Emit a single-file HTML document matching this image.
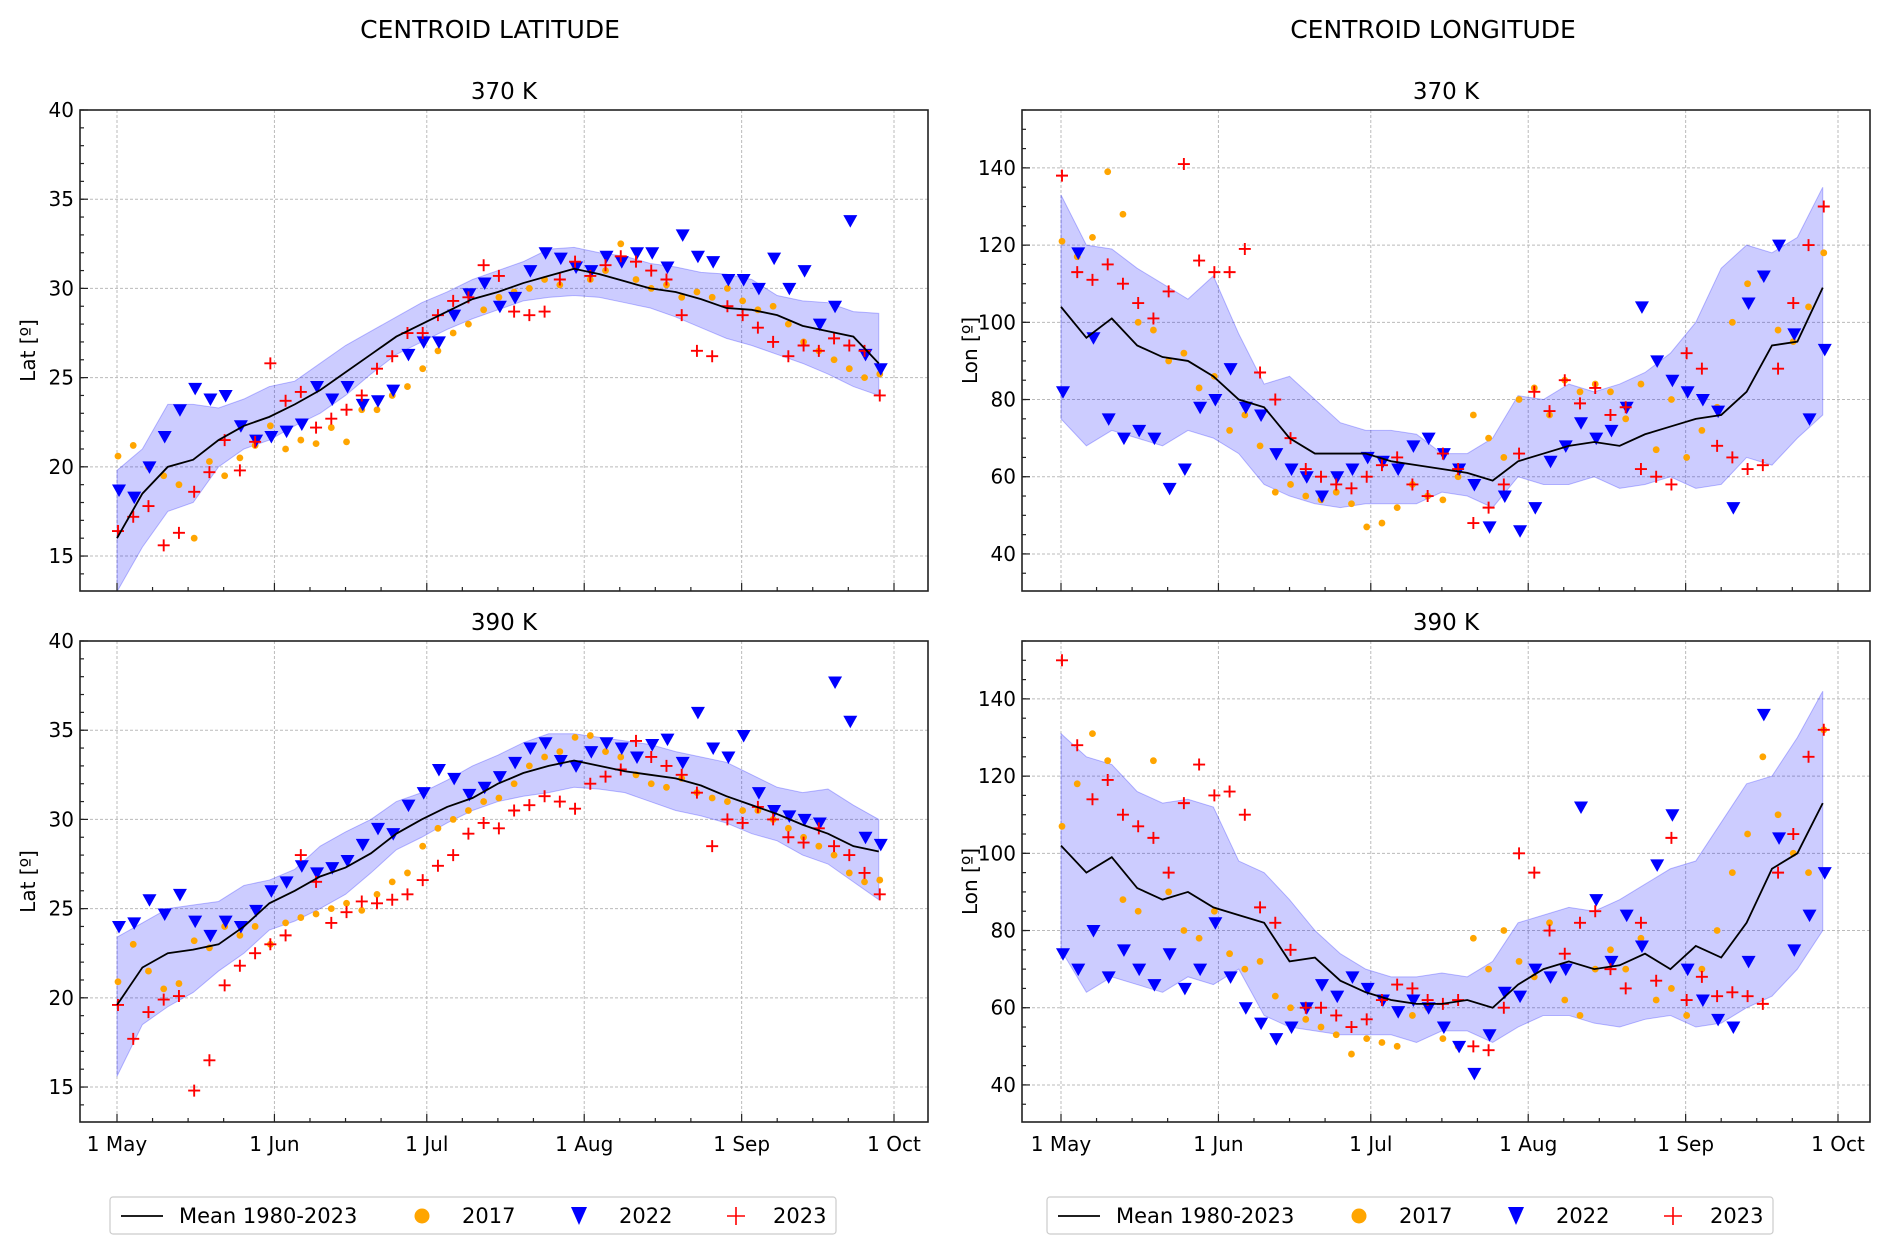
<!DOCTYPE html>
<html><head><meta charset="utf-8">
<style>
html,body{margin:0;padding:0;background:#fff;}
svg{display:block;font-family:"DejaVu Sans","Liberation Sans",sans-serif;}
</style></head>
<body>
<svg id="fig" width="1892" height="1256" viewBox="0 0 1892 1256" xmlns="http://www.w3.org/2000/svg">
<rect width="1892" height="1256" fill="#fff"/>
<text x="490" y="38" font-size="25" text-anchor="middle">CENTROID LATITUDE</text>
<text x="1433" y="38" font-size="25" text-anchor="middle">CENTROID LONGITUDE</text>
<g id="panels"></g>
<g id="legends"></g>
</svg>
<script>
// ---- shared axes data ----
const monthTickDays = [0,31,61,92,123,153];
const monthTickLabels = ["1 May","1 Jun","1 Jul","1 Aug","1 Sep","1 Oct"];
const bandDays = [0,5,10,15,20,25,30,35,40,45,50,55,60,65,70,75,80,85,90,95,100,105,110,115,120,125,130,135,140,145,150];
const scatterDays = [0,3,6,9,12,15,18,21,24,27,30,33,36,39,42,45,48,51,54,57,60,63,66,69,72,75,78,81,84,87,90,93,96,99,102,105,108,111,114,117,120,123,126,129,132,135,138,141,144,147,150];
const latTicks = [15,20,25,30,35,40];
const lonTicks = [40,60,80,100,120,140];

// ---- 370 K latitude ----
const lat370Mean = [16,18.5,20,20.4,21.5,22.3,22.8,23.5,24.3,25.3,26.3,27.3,28,28.7,29.4,29.8,30.3,30.7,31.1,30.8,30.4,30.0,29.8,29.4,28.9,28.8,28.5,27.9,27.6,27.3,25.8];
const lat370Low = [13,15.5,17.5,18,20,21,21.5,22.3,23,24,25.2,26.3,27,27.7,28.3,28.8,29.3,29.5,29.6,29.5,29.2,28.9,28.4,27.8,27.2,26.8,26.3,25.8,25.2,24.5,24.0];
const lat370High = [19.8,21,23.5,23.5,23.3,23.8,24.5,24.8,25.8,26.8,27.6,28.4,29.2,29.8,30.5,31,31.5,32.2,32.3,32.0,31.8,31.4,31.2,30.9,30.8,30.5,29.6,29.3,29.2,28.7,28.6];
const lat370Y2017 = [20.6,21.2,20,19.5,19,16,20.3,19.5,20.5,21.2,22.3,21,21.5,21.3,22.2,21.4,23.2,23.2,24,24.5,25.5,26.5,27.5,28,28.8,29.5,29.8,30,30.5,30.2,31.2,30.5,31,32.5,30.5,30,30.2,29.5,29.8,29.5,30,29.3,28.8,29,28,27,26.5,26,25.5,25,25.2];
const lat370Y2022 = [18.7,18.3,20,21.7,23.2,24.4,23.8,24,22.3,21.5,21.7,22,22.4,24.5,23.8,24.5,23.5,23.7,24.3,26.3,27,27,28.5,29.7,30.3,29,29.5,31,32,31.7,31.2,31,31.8,31.5,32,32,31.2,33,31.8,31.5,30.5,30.5,30,31.7,30,31,28,29,33.8,26.3,25.5];
const lat370Y2023 = [16.4,17.2,17.8,15.6,16.3,18.6,19.7,21.5,19.8,21.4,25.8,23.7,24.2,22.2,22.7,23.2,24,25.5,26.2,27.5,27.5,28.5,29.3,29.5,31.3,30.7,28.7,28.5,28.7,30.5,31.5,30.7,31.3,31.8,31.5,31,30.5,28.5,26.5,26.2,29,28.5,27.8,27,26.2,26.8,26.5,27.2,26.8,26.5,24];

// ---- 390 K latitude ----
const lat390Mean = [19.6,21.7,22.5,22.7,23,24,25.3,26,26.8,27.3,28.1,29.2,30,30.7,31.2,32,32.6,33,33.3,33,32.7,32.5,32.3,31.9,31.3,30.8,30.3,29.7,29.2,28.5,28.2];
const lat390Low = [15.6,18.5,19.5,20.3,21.5,22.5,23.8,24.3,25,25.8,27,28.3,29,29.8,30.5,31,31.3,31.5,31.8,31.7,31.5,31,30.5,30.2,29.8,29.2,28.8,28,27.5,26.5,25.5];
const lat390High = [23.4,24.2,25,25.2,25.4,26.3,26.6,27.2,28.5,29.3,30,31,31.5,32.2,33,33.6,34.3,34.8,34.8,34.6,34.4,34.2,33.8,33.5,33.2,32.5,31.8,31.5,31.7,30.8,30];
const lat390Y2017 = [20.9,23,21.5,20.5,20.8,23.2,22.8,24,23.5,24,23,24.2,24.5,24.7,25,25.3,24.9,25.8,26.5,27,28.5,29.5,30,30.5,31,31.2,32,33,33.5,33.8,34.6,34.7,33.8,33.5,32.5,32,31.8,32.3,31.5,31.2,31,30.5,30.5,30,29.5,29,28.5,28,27,26.5,26.6];
const lat390Y2022 = [24,24.2,25.5,24.7,25.8,24.3,23.5,24.3,24,24.9,26,26.5,27.4,27,27.3,27.7,28.6,29.5,29.2,30.8,31.5,32.8,32.3,31.4,31.8,32.4,33.2,34,34.3,33.3,33,33.8,34.3,34,33.5,34.2,34.5,33.2,36,34,33.5,34.7,31.5,30.5,30.2,30,29.8,37.7,35.5,29,28.6];
const lat390Y2023 = [19.6,17.7,19.2,19.9,20.1,14.8,16.5,20.7,21.8,22.5,23,23.5,28,26.5,24.2,24.8,25.4,25.3,25.5,25.8,26.6,27.4,28,29.2,29.8,29.5,30.5,30.8,31.3,31,30.6,32,32.4,32.8,34.4,33.5,33,32.5,31.5,28.5,30,29.8,30.7,30,29,28.7,29.5,28.5,28,27,25.8];

// ---- 370 K longitude ----
const lon370Mean = [104,96,101,94,91,90,86,80,78,70,66,66,66,64,63,62,61,59,64,66,68,69,68,71,73,75,76,82,94,95,109];
const lon370Low = [75,68,72,70,68,72,70,66,58,55,53,52,53,53,53,56,55,52,60,58,58,60,57,58,60,57,58,65,63,70,76];
const lon370High = [133,120,119,114,110,106,112,97,84,86,80,74,72,72,71,66,66,70,81,80,84,82,84,87,92,100,114,120,118,122,135];
const lon370Y2017 = [121,117,122,139,128,100,98,90,92,83,86,72,76,68,56,58,55,54,56,53,47,48,52,58,55,54,60,76,70,65,80,83,76,85,82,84,82,75,84,67,80,65,72,78,100,110,112,98,95,104,118];
const lon370Y2022 = [82,118,96,75,70,72,70,57,62,78,80,88,78,76,66,62,60,55,60,62,65,64,62,68,70,66,62,58,47,55,46,52,64,68,74,70,72,78,104,90,85,82,80,77,52,105,112,120,97,75,93];
const lon370Y2023 = [138,113,111,115,110,105,101,108,141,116,113,113,119,87,80,70,62,60,58,57,60,63,65,58,55,66,62,48,52,58,66,82,77,85,79,83,76,78,62,60,58,92,88,68,65,62,63,88,105,120,130];

// ---- 390 K longitude ----
const lon390Mean = [102,95,99,91,88,90,86,84,82,72,73,67,64,62,61,61,62,60,66,70,72,70,71,74,70,76,73,82,96,100,113];
const lon390Low = [75,64,68,66,64,68,66,70,58,55,54,53,53,53,51,54,54,51,55,58,58,56,55,57,58,55,56,60,63,70,80];
const lon390High = [131,125,123,116,113,114,112,98,95,88,80,74,70,68,68,69,68,72,82,84,86,85,88,92,96,98,108,118,120,130,142];
const lon390Y2017 = [107,118,131,124,88,85,124,90,80,78,85,74,70,72,63,60,57,55,53,48,52,51,50,58,60,52,50,78,70,80,72,68,82,62,58,70,75,70,78,62,65,58,70,80,95,105,125,110,100,95,132];
const lon390Y2022 = [74,70,80,68,75,70,66,74,65,70,82,68,60,56,52,55,60,66,63,68,65,62,59,62,60,55,50,43,53,64,63,70,68,70,112,88,72,84,76,97,110,70,62,57,55,72,136,104,75,84,95];
const lon390Y2023 = [150,128,114,119,110,107,104,95,113,123,115,116,110,86,82,75,60,60,58,55,57,62,66,65,62,61,62,50,49,60,100,95,80,74,82,85,70,65,82,67,104,62,68,63,64,63,61,95,105,125,132];

const NS = "http://www.w3.org/2000/svg";
function mk(tag, attrs, parent){
  const e = document.createElementNS(NS, tag);
  for (const k in attrs) e.setAttribute(k, attrs[k]);
  if (parent) parent.appendChild(e);
  return e;
}

function drawPanel(cfg){
  const root = document.getElementById('panels');
  const g = mk('g', {}, root);
  
  
  const X = d => cfg.px0 + (d - 0) * (cfg.px1 - cfg.px0) / 153;
  const Y = v => cfg.y1 - (v - cfg.ymin) * (cfg.y1 - cfg.y0) / (cfg.ymax - cfg.ymin);

  const grid = mk('g', {stroke:'#bbbbbb','stroke-width':1,'stroke-dasharray':'3,2'}, g);
  
  
  monthTickDays.forEach(d => mk('line', {x1:X(d), x2:X(d), y1:cfg.y0, y2:cfg.y1}, grid));
  cfg.ticks.forEach(v => mk('line', {x1:cfg.fx0, x2:cfg.fx1, y1:Y(v), y2:Y(v)}, grid));

  const clip = 'clip-' + cfg.name;
  const cp = mk('clipPath', {id: clip}, g);
  mk('rect', {x:cfg.fx0, y:cfg.y0, width:cfg.fx1-cfg.fx0, height:cfg.y1-cfg.y0}, cp);
  const plot = mk('g', {'clip-path':'url(#'+clip+')'}, g);

  let pts = bandDays.map((d,i) => X(d)+','+Y(cfg.high[i]));
  pts = pts.concat(bandDays.slice().reverse().map((d,j) => X(d)+','+Y(cfg.low[bandDays.length-1-j])));
  const band = mk('polygon', {points: pts.join(' '), fill:'#0000ff','fill-opacity':0.2, stroke:'#0000ff','stroke-opacity':0.25,'stroke-width':1}, plot);
  
  

  const s17 = mk('g', {fill:'orange'}, plot);
  
  
  scatterDays.forEach((d,i) => mk('circle', {cx:X(d)+1, cy:Y(cfg.y2017[i]), r:3.4}, s17));

  const s22 = mk('g', {fill:'#0000ff'}, plot);
  
  
  scatterDays.forEach((d,i) => {
    const x = X(d)+2, y = Y(cfg.y2022[i]);
    mk('polygon', {points:(x-7)+','+(y-5.5)+' '+(x+7)+','+(y-5.5)+' '+x+','+(y+7)}, s22);
  });

  const s23 = mk('g', {stroke:'#ff0000','stroke-width':1.9}, plot);
  
  
  scatterDays.forEach((d,i) => {
    const x = X(d)+1, y = Y(cfg.y2023[i]);
    mk('path', {d:'M'+(x-6)+' '+y+'H'+(x+6)+'M'+x+' '+(y-6)+'V'+(y+6)}, s23);
  });

  const ml = mk('polyline', {points: bandDays.map((d,i)=>X(d)+','+Y(cfg.mean[i])).join(' '), fill:'none', stroke:'#000','stroke-width':1.8}, plot);
  
  

  mk('rect', {x:cfg.fx0, y:cfg.y0, width:cfg.fx1-cfg.fx0, height:cfg.y1-cfg.y0, fill:'none', stroke:'#222','stroke-width':1.6}, g);

  const tk = mk('g', {stroke:'#222','stroke-width':1.2}, g);
  monthTickDays.forEach(d => mk('line', {x1:X(d), x2:X(d), y1:cfg.y1, y2:cfg.y1-8}, tk));
  monthTickDays.slice(0,5).forEach(d => [7,14,21].forEach(o => mk('line', {x1:X(d+o), x2:X(d+o), y1:cfg.y1, y2:cfg.y1-4}, tk)));
  cfg.ticks.forEach(v => mk('line', {x1:cfg.fx0, x2:cfg.fx0+8, y1:Y(v), y2:Y(v)}, tk));
  for (let v = Math.ceil(cfg.ymin/cfg.minor)*cfg.minor; v <= cfg.ymax; v += cfg.minor)
    mk('line', {x1:cfg.fx0, x2:cfg.fx0+4, y1:Y(v), y2:Y(v)}, tk);

  cfg.ticks.forEach(v => {
    const t = mk('text', {x:cfg.fx0-6, y:Y(v)+7, 'font-size':20, 'text-anchor':'end'}, g);
    t.textContent = v;
    
    
  });
  if (cfg.xlabels) monthTickDays.forEach((d,i) => {
    const t = mk('text', {x:X(d), y:cfg.y1+29, 'font-size':20, 'text-anchor':'middle'}, g);
    t.textContent = monthTickLabels[i];
    
    
  });
  const yl = mk('text', {x:0, y:0, 'font-size':20, 'text-anchor':'middle', transform:'translate('+(cfg.fx0-45)+','+((cfg.y0+cfg.y1)/2)+') rotate(-90)'}, g);
  yl.textContent = cfg.ylabel;
  
  
  const tt = mk('text', {x:(cfg.fx0+cfg.fx1)/2, y:cfg.y0-11, 'font-size':23, 'text-anchor':'middle'}, g);
  tt.textContent = cfg.title;
  
  
}

const L = {px0:117, px1:894, fx0:80, fx1:928};
const R = {px0:1061, px1:1838, fx0:1022, fx1:1870};
const T = {y0:110, y1:591};
const B = {y0:641, y1:1122};
drawPanel(Object.assign({name:'panel-lat-370', title:'370 K', ylabel:'Lat [º]', ymin:13.04, ymax:40, ticks:latTicks, minor:1, mean:lat370Mean, low:lat370Low, high:lat370High, y2017:lat370Y2017, y2022:lat370Y2022, y2023:lat370Y2023, xlabels:false}, L, T));
drawPanel(Object.assign({name:'panel-lat-390', title:'390 K', ylabel:'Lat [º]', ymin:13.04, ymax:40, ticks:latTicks, minor:1, mean:lat390Mean, low:lat390Low, high:lat390High, y2017:lat390Y2017, y2022:lat390Y2022, y2023:lat390Y2023, xlabels:true}, L, B));
drawPanel(Object.assign({name:'panel-lon-370', title:'370 K', ylabel:'Lon [º]', ymin:30.4, ymax:155, ticks:lonTicks, minor:5, mean:lon370Mean, low:lon370Low, high:lon370High, y2017:lon370Y2017, y2022:lon370Y2022, y2023:lon370Y2023, xlabels:false}, R, T));
drawPanel(Object.assign({name:'panel-lon-390', title:'390 K', ylabel:'Lon [º]', ymin:30.4, ymax:155, ticks:lonTicks, minor:5, mean:lon390Mean, low:lon390Low, high:lon390High, y2017:lon390Y2017, y2022:lon390Y2022, y2023:lon390Y2023, xlabels:true}, R, B));

function drawLegend(x0, name){
  const lg = document.getElementById('legends');
  const g = mk('g', {}, lg);
  
  
  mk('rect', {x:x0, y:1197, width:726, height:37, rx:3, fill:'#fff', stroke:'#cccccc','stroke-width':1.2}, g);
  const cy = 1216;
  mk('line', {x1:x0+11, x2:x0+53, y1:cy, y2:cy, stroke:'#000','stroke-width':1.8}, g);
  mk('circle', {cx:x0+312, cy:cy, r:7.5, fill:'orange'}, g);
  mk('polygon', {points:(x0+461)+','+(cy-9)+' '+(x0+477)+','+(cy-9)+' '+(x0+469)+','+(cy+9), fill:'#0000ff'}, g);
  mk('path', {d:'M'+(x0+617)+' '+cy+'H'+(x0+635)+'M'+(x0+626)+' '+(cy-9)+'V'+(cy+9), stroke:'#ff0000','stroke-width':1.6}, g);
  [['Mean 1980-2023',69],['2017',352],['2022',509],['2023',663]].forEach(([s,dx]) => {
    const t = mk('text', {x:x0+dx, y:cy+7, 'font-size':21}, g);
    t.textContent = s;
    
    
  });
}
drawLegend(110, 'legend-latitude');
drawLegend(1047, 'legend-longitude');
</script>
</body></html>
